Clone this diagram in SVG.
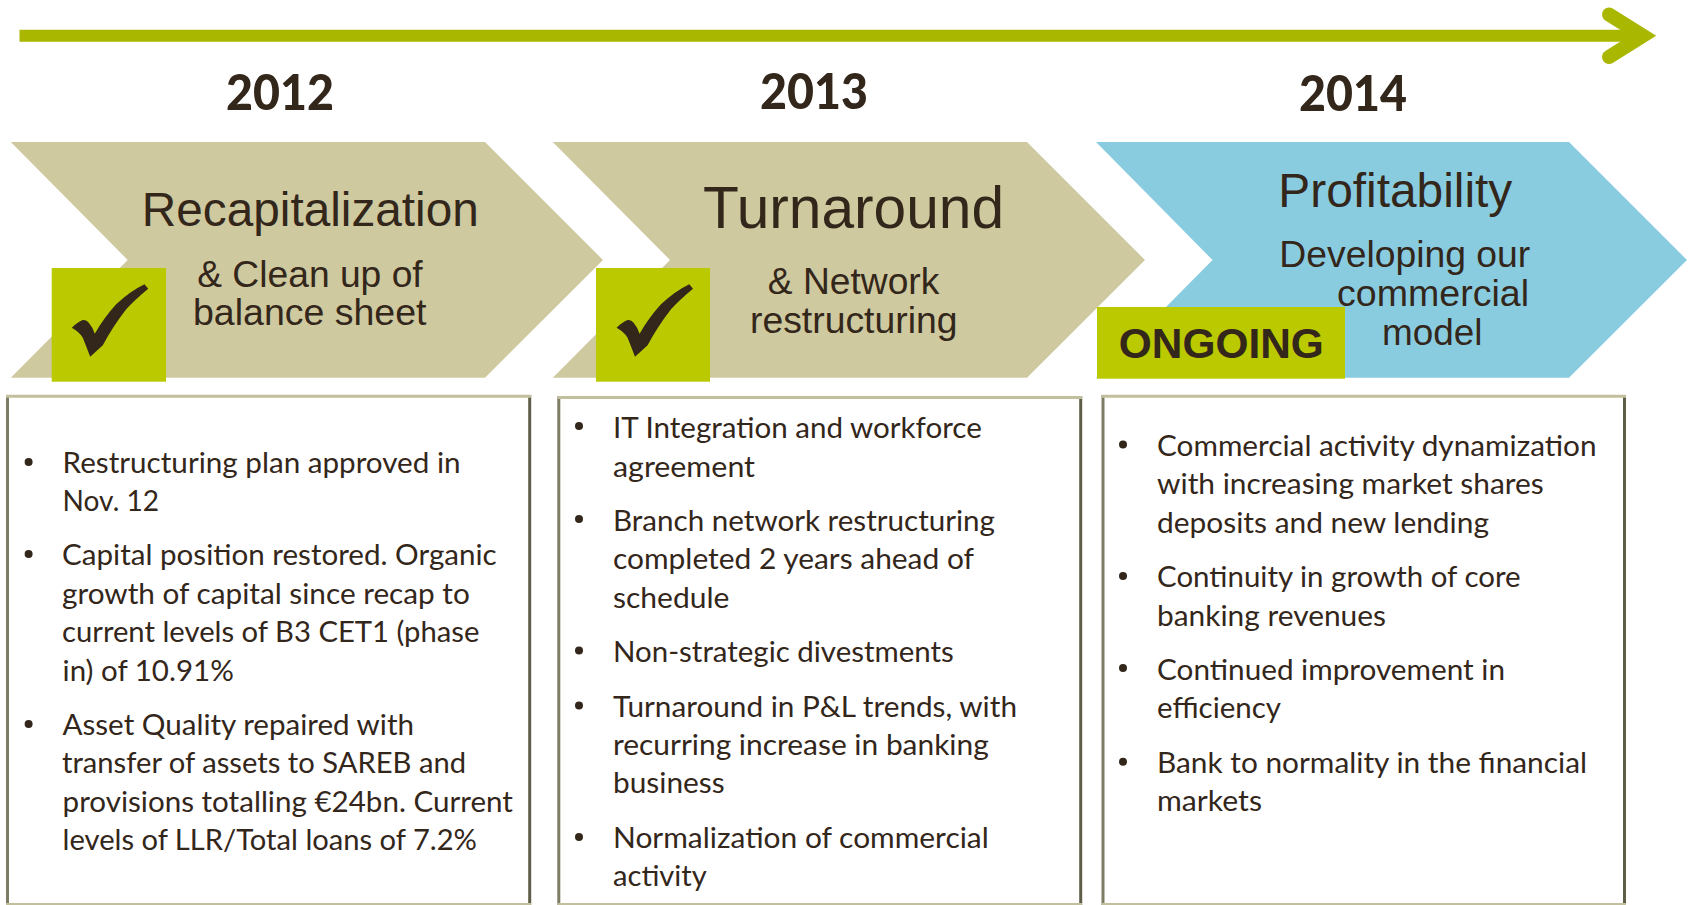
<svg xmlns="http://www.w3.org/2000/svg" width="1690" height="905" viewBox="0 0 1690 905">
<style>
.tan{fill:#cfc99f}.blue{fill:#8accdf}.lime{fill:#bac900}.ink{fill:#33261a}
text{fill:#33261a;font-variant-ligatures:none;font-feature-settings:"liga" 0,"clig" 0}
.yr{font:900 50px Lato,"Liberation Sans",sans-serif}
.h{font-family:"Liberation Sans",Arial,sans-serif}
.h1{font-size:48px}.h1b{font-size:59px}.h2{font-size:37px}
.ong{font:700 42px "Liberation Sans",Arial,sans-serif}
.b{font:400 29px Lato,"Open Sans",sans-serif}
.box{fill:#fff}
.et{stroke:#c2c09c;stroke-width:3;fill:none}
.el{stroke:#7d7d65;stroke-width:3;fill:none}
.er{stroke:#5e5e48;stroke-width:3;fill:none}
.cn{fill:none;stroke:#a9b700}
</style>
<defs>
<path id="chk" d="M72.300 327.700Q78 322 83.300 320Q87 319.500 89.300 322.700Q93 327 95.300 333.700Q105 317 116.700 304.300Q131 291 145 284.300L148.700 288.700Q135 300 126.700 309.300Q113 327 103.300 345.300L90.700 356.700Q87 347 83.300 337.700Q80 332 72.300 327.700Z"/>
</defs>
<g id="connectors">
<path class="cn" stroke-width="12" d="M19.500 35.700H1640"/>
<path class="cn" stroke-width="14" stroke-linecap="round" stroke-linejoin="miter" stroke-miterlimit="6" d="M1609 14.500L1643 35.700L1609 57"/>
</g>
<g id="year-2012"><text class="yr" x="226" y="109.800" textLength="108" lengthAdjust="spacingAndGlyphs">2012</text></g>
<g id="year-2013"><text class="yr" x="760" y="108.800" textLength="108" lengthAdjust="spacingAndGlyphs">2013</text></g>
<g id="year-2014"><text class="yr" x="1299" y="110.800" textLength="108" lengthAdjust="spacingAndGlyphs">2014</text></g>

<g id="chevron-recapitalization">
<polygon class="tan" points="10.800,142 485,142 603,260 485,377.700 10.800,377.700 127.700,260"/>
<text class="h h1" x="141.800" y="226" textLength="337" lengthAdjust="spacingAndGlyphs">Recapitalization</text>
<text class="h h2" x="197.200" y="286.700" textLength="225.500" lengthAdjust="spacingAndGlyphs">&amp; Clean up of</text>
<text class="h h2" x="193" y="324.800" textLength="233.500" lengthAdjust="spacingAndGlyphs">balance sheet</text>
</g>
<g id="status-check-1">
<rect class="lime" x="51.700" y="268" width="114.300" height="113.700"/>
<use href="#chk" class="ink" x="-0.500"/>
</g>

<g id="chevron-turnaround">
<polygon class="tan" points="552.800,142 1027,142 1145,260 1027,377.700 552.800,377.700 670,260"/>
<text class="h h1b" x="703" y="227.700" textLength="301" lengthAdjust="spacingAndGlyphs">Turnaround</text>
<text class="h h2" x="767.800" y="294.400" textLength="171.500" lengthAdjust="spacingAndGlyphs">&amp; Network</text>
<text class="h h2" x="750" y="333.400" textLength="207.500" lengthAdjust="spacingAndGlyphs">restructuring</text>
</g>
<g id="status-check-2">
<rect class="lime" x="596" y="268" width="114" height="113.700"/>
<use href="#chk" class="ink" x="544.300"/>
</g>

<g id="chevron-profitability">
<polygon class="blue" points="1096,142 1569,142 1687,260 1569,377.700 1096,377.700 1212.500,260"/>
<text class="h h1" x="1278.300" y="206.700" textLength="234" lengthAdjust="spacingAndGlyphs">Profitability</text>
<text class="h h2" x="1279.300" y="267" textLength="251" lengthAdjust="spacingAndGlyphs">Developing our</text>
<text class="h h2" x="1337" y="306.300" textLength="192" lengthAdjust="spacingAndGlyphs">commercial</text>
<text class="h h2" x="1382" y="344.700" textLength="100.500" lengthAdjust="spacingAndGlyphs">model</text>
</g>
<g id="status-ongoing">
<rect class="lime" x="1097" y="307" width="248" height="71.700"/>
<text class="ong" x="1118.800" y="358.300" textLength="205" lengthAdjust="spacingAndGlyphs">ONGOING</text>
</g>

<g id="box-2012">
<rect class="box" x="7.500" y="396" width="522" height="509"/>
<path class="el" d="M7.500 395V905"/><path class="er" d="M529.700 395V905"/><path class="et" d="M6 396.200H531.200M6 904.500H531.200"/>
<circle class="ink" cx="28.600" cy="462" r="4"/><circle class="ink" cx="28.600" cy="554" r="4"/><circle class="ink" cx="28.600" cy="724" r="4"/>
<text class="b" x="62.600" y="472.700" textLength="398" lengthAdjust="spacingAndGlyphs">Restructuring plan approved in</text>
<text class="b" x="62.600" y="510.600" textLength="96.400" lengthAdjust="spacingAndGlyphs">Nov. 12</text>
<text class="b" x="62" y="564.800" textLength="434.700" lengthAdjust="spacingAndGlyphs">Capital position restored. Organic</text>
<text class="b" x="62" y="603.600" textLength="407.800" lengthAdjust="spacingAndGlyphs">growth of capital since recap to</text>
<text class="b" x="62" y="642.400" textLength="417.400" lengthAdjust="spacingAndGlyphs">current levels of B3 CET1 (phase</text>
<text class="b" x="62.600" y="680.600" textLength="171.200" lengthAdjust="spacingAndGlyphs">in) of 10.91%</text>
<text class="b" x="62.500" y="734.900" textLength="351.500" lengthAdjust="spacingAndGlyphs">Asset Quality repaired with</text>
<text class="b" x="62" y="772.700" textLength="404" lengthAdjust="spacingAndGlyphs">transfer of assets to SAREB and</text>
<text class="b" x="62.600" y="811.500" textLength="450.300" lengthAdjust="spacingAndGlyphs">provisions totalling €24bn. Current</text>
<text class="b" x="62.600" y="849.700" textLength="414.400" lengthAdjust="spacingAndGlyphs">levels of LLR/Total loans of 7.2%</text>
</g>

<g id="box-2013">
<rect class="box" x="558.800" y="397" width="522" height="508"/>
<path class="el" d="M558.800 396V905"/><path class="er" d="M1080.700 396V905"/><path class="et" d="M557.300 397.400H1082.200M557.300 904.500H1082.200"/>
<circle class="ink" cx="579" cy="426" r="4"/><circle class="ink" cx="579" cy="519" r="4"/><circle class="ink" cx="579" cy="650.500" r="4"/><circle class="ink" cx="579" cy="705.400" r="4"/><circle class="ink" cx="579" cy="837" r="4"/>
<text class="b" x="613" y="438" textLength="368.800" lengthAdjust="spacingAndGlyphs">IT Integration and workforce</text>
<text class="b" x="613" y="477" textLength="142" lengthAdjust="spacingAndGlyphs">agreement</text>
<text class="b" x="613" y="531" textLength="382" lengthAdjust="spacingAndGlyphs">Branch network restructuring</text>
<text class="b" x="613" y="569" textLength="361" lengthAdjust="spacingAndGlyphs">completed 2 years ahead of</text>
<text class="b" x="613" y="608" textLength="116.400" lengthAdjust="spacingAndGlyphs">schedule</text>
<text class="b" x="613" y="662" textLength="340.800" lengthAdjust="spacingAndGlyphs">Non-strategic divestments</text>
<text class="b" x="613" y="716.500" textLength="404" lengthAdjust="spacingAndGlyphs">Turnaround in P&amp;L trends, with</text>
<text class="b" x="613" y="755.300" textLength="375.800" lengthAdjust="spacingAndGlyphs">recurring increase in banking</text>
<text class="b" x="613" y="793.400" textLength="111.600" lengthAdjust="spacingAndGlyphs">business</text>
<text class="b" x="613" y="848" textLength="375.800" lengthAdjust="spacingAndGlyphs">Normalization of commercial</text>
<text class="b" x="613" y="885.500" textLength="93.800" lengthAdjust="spacingAndGlyphs">activity</text>
</g>

<g id="box-2014">
<rect class="box" x="1103" y="396" width="521.500" height="509"/>
<path class="el" d="M1103 395V905"/><path class="er" d="M1624.500 395V905"/><path class="et" d="M1101.500 396.200H1626M1101.500 904.500H1626"/>
<circle class="ink" cx="1123" cy="444.600" r="4"/><circle class="ink" cx="1123" cy="576" r="4"/><circle class="ink" cx="1123" cy="668" r="4"/><circle class="ink" cx="1123" cy="761.700" r="4"/>
<text class="b" x="1157" y="456" textLength="439.500" lengthAdjust="spacingAndGlyphs">Commercial activity dynamization</text>
<text class="b" x="1157" y="493.800" textLength="386.700" lengthAdjust="spacingAndGlyphs">with increasing market shares</text>
<text class="b" x="1157" y="533.300" textLength="332" lengthAdjust="spacingAndGlyphs">deposits and new lending</text>
<text class="b" x="1157" y="587" textLength="363.600" lengthAdjust="spacingAndGlyphs">Continuity in growth of core</text>
<text class="b" x="1157" y="626.400" textLength="229" lengthAdjust="spacingAndGlyphs">banking revenues</text>
<text class="b" x="1157" y="679.600" textLength="348" lengthAdjust="spacingAndGlyphs">Continued improvement in</text>
<text class="b" x="1157" y="717.500" textLength="124" lengthAdjust="spacingAndGlyphs">efficiency</text>
<text class="b" x="1157" y="773.400" textLength="430" lengthAdjust="spacingAndGlyphs">Bank to normality in the financial</text>
<text class="b" x="1157" y="811" textLength="105" lengthAdjust="spacingAndGlyphs">markets</text>
</g>
</svg>
